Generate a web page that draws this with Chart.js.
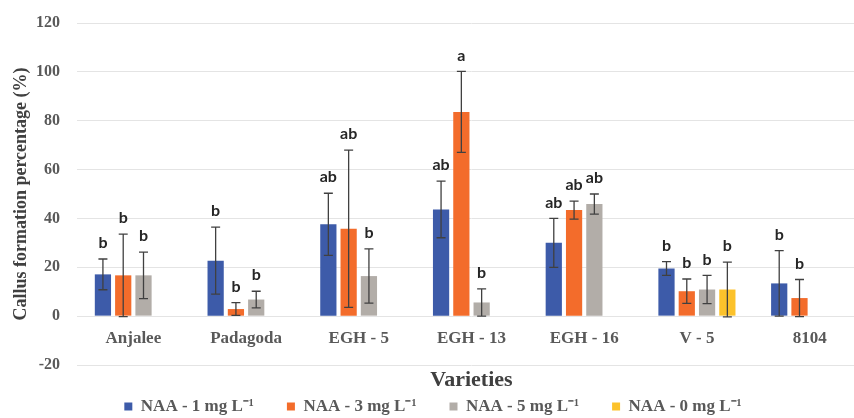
<!DOCTYPE html>
<html>
<head>
<meta charset="utf-8">
<script src="https://cdn.jsdelivr.net/npm/chart.js@4"></script>
<style>
  html, body { margin: 0; padding: 0; background: #fff; overflow: hidden; }
  .container { width: 866px; height: 418px; }
</style>
</head>
<body>
<div class="container">
  <canvas id="callus"></canvas>
</div>
<script>
const varieties = ['Anjalee', 'Padagoda', 'EGH - 5', 'EGH - 13', 'EGH - 16', 'V - 5', '8104']

const naa1 = [17.1, 22.7, 37.6, 43.7, 30.0, 19.5, 13.4]
const naa1Err = [6.3, 13.7, 12.7, 11.6, 10.0, 2.8, 13.4]
const naa1Letters = ['b', 'b', 'ab', 'ab', 'ab', 'b', 'b']

const naa3 = [16.7, 2.9, 35.8, 83.6, 43.4, 10.2, 7.4]
const naa3Err = [16.9, 2.6, 32.2, 16.6, 3.7, 5.0, 7.6]
const naa3Letters = ['b', 'b', 'ab', 'a', 'ab', 'b', 'b']

const naa5 = [16.7, 6.8, 16.4, 5.6, 45.9, 10.9, null]
const naa5Err = [9.5, 3.4, 11.1, 5.6, 4.1, 5.8, null]
const naa5Letters = ['b', 'b', 'b', 'b', 'ab', 'b', null]

const naa0 = [null, null, null, null, null, 10.9, null]
const naa0Err = [null, null, null, null, null, 11.2, null]
const naa0Letters = [null, null, null, null, null, 'b', null]

const yTicks = [-20, 0, 20, 40, 60, 80, 100, 120]

const serif = 'Liberation Serif'

// error bars + letters drawn on top of the bars
const errorBars = {
  id: 'errorBars',
  afterDatasetsDraw(chart) {
    const ctx = chart.ctx
    const y = chart.scales.y
    ctx.save()
    chart.data.datasets.forEach((ds, i) => {
      const meta = chart.getDatasetMeta(i)
      ds.data.forEach((v, j) => {
        if (v === null) return
        const bar = meta.data[j]
        const err = ds.errors[j]
        const top = y.getPixelForValue(v + err)
        const bottom = y.getPixelForValue(v - err)
        ctx.strokeStyle = '#404040'
        ctx.lineWidth = 1.3
        ctx.beginPath()
        ctx.moveTo(bar.x, top)
        ctx.lineTo(bar.x, bottom)
        ctx.moveTo(bar.x - 4.5, top)
        ctx.lineTo(bar.x + 4.5, top)
        ctx.moveTo(bar.x - 4.5, bottom)
        ctx.lineTo(bar.x + 4.5, bottom)
        ctx.stroke()
        if (ds.letters[j]) {
          ctx.fillStyle = '#262626'
          ctx.font = 'bold 16px Lato'
          ctx.textAlign = 'center'
          ctx.textBaseline = 'middle'
          ctx.fillText(ds.letters[j], bar.x, top - 16)
        }
      })
    })
    ctx.restore()
  }
}

const ctx = document.getElementById('callus')

new Chart(ctx, {
  type: 'bar',
  data: {
    labels: varieties,
    datasets: [
      { label: 'NAA - 1 mg L⁻¹', data: naa1, errors: naa1Err, letters: naa1Letters, backgroundColor: '#3d5ba9' },
      { label: 'NAA - 3 mg L⁻¹', data: naa3, errors: naa3Err, letters: naa3Letters, backgroundColor: '#f36c2b' },
      { label: 'NAA - 5 mg L⁻¹', data: naa5, errors: naa5Err, letters: naa5Letters, backgroundColor: '#b2ada8' },
      { label: 'NAA - 0 mg L⁻¹', data: naa0, errors: naa0Err, letters: naa0Letters, backgroundColor: '#fcc22b' }
    ]
  },
  options: {
    responsive: true,
    maintainAspectRatio: false,
    animation: false,
    categoryPercentage: 0.72,
    barPercentage: 0.8,
    layout: {
      padding: { top: 23, right: 0, bottom: 0, left: 0 }
    },
    plugins: {
      tooltip: { enabled: false },
      legend: {
        position: 'bottom',
        maxHeight: 53,
        labels: {
          boxWidth: 8,
          boxHeight: 8,
          padding: 33,
          color: '#595959',
          font: { family: serif, size: 17, weight: 'bold' }
        }
      }
    },
    scales: {
      x: {
        position: { y: 0 },
        grid: { display: false },
        border: { display: false },
        ticks: {
          padding: 4,
          color: '#595959',
          font: { family: serif, size: 17, weight: 'bold' }
        },
        title: {
          display: true,
          text: 'Varieties',
          color: '#404040',
          padding: { top: 15, bottom: 0 },
          font: { family: serif, size: 22, weight: 'bold' }
        }
      },
      y: {
        min: yTicks[0],
        max: yTicks[yTicks.length - 1],
        afterBuildTicks: scale => { scale.ticks = yTicks.map(v => ({ value: v })) },
        afterFit: scale => {
          scale.width = 77
          scale.paddingTop = 0
          scale.paddingBottom = 0
        },
        grid: { color: '#e4e4e4', drawTicks: false },
        border: { display: false },
        ticks: {
          padding: 17,
          color: '#595959',
          font: { family: serif, size: 16, weight: 'bold' }
        },
        title: {
          display: true,
          text: 'Callus formation percentage (%)',
          color: '#404040',
          padding: { top: 11, bottom: 0 },
          font: { family: serif, size: 18, weight: 'bold' }
        }
      }
    }
  },
  plugins: [errorBars]
})
</script>
</body>
</html>
